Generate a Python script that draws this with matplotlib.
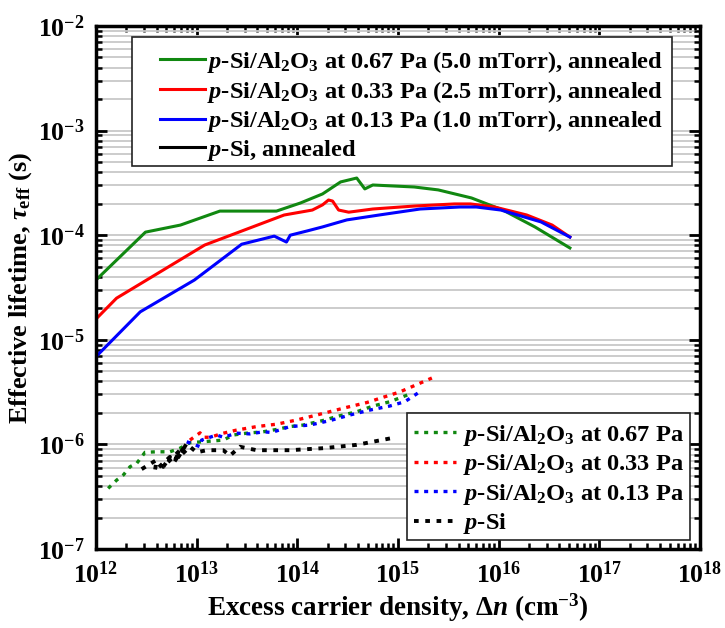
import numpy as np
import matplotlib
matplotlib.use("Agg")
import matplotlib.pyplot as plt
from matplotlib.ticker import LogLocator, NullFormatter, FuncFormatter, FixedLocator
from matplotlib.patches import Rectangle

plt.rcParams['font.family'] = ['Liberation Serif', 'DejaVu Serif']
plt.rcParams['font.weight'] = 'bold'
plt.rcParams['mathtext.fontset'] = 'custom'
plt.rcParams['mathtext.rm'] = 'Liberation Serif:bold'
plt.rcParams['mathtext.it'] = 'Liberation Serif:italic:bold'
plt.rcParams['mathtext.bf'] = 'Liberation Serif:bold'
plt.rcParams['axes.unicode_minus'] = False

# ---- tick decades ----
x_decades = [12, 13, 14, 15, 16, 17, 18]
y_decades = [-7, -6, -5, -4, -3, -2]

# ---- annealed (solid) ----
green_ann_x = [1.0e12, 3.1e12, 6.9e12, 1.7e13, 6.2e13, 1.07e14, 1.78e14, 2.69e14, 3.89e14,
               4.68e14, 5.62e14, 1.45e15, 2.51e15, 5.37e15, 1.10e16, 2.29e16, 5.1e16]
green_ann_y = [3.73e-5, 1.07e-4, 1.25e-4, 1.70e-4, 1.70e-4, 2.03e-4, 2.48e-4, 3.23e-4, 3.52e-4,
               2.77e-4, 3.02e-4, 2.89e-4, 2.71e-4, 2.27e-4, 1.74e-4, 1.20e-4, 7.55e-5]

red_ann_x = [1.0e12, 1.6e12, 1.2e13, 7.4e13, 1.41e14, 1.78e14, 2.04e14, 2.24e14, 2.57e14,
             3.24e14, 5.62e14, 1.45e15, 3.63e15, 5.25e15, 9.1e15, 1.9e16, 3.4e16, 5.1e16]
red_ann_y = [1.58e-5, 2.5e-5, 8.05e-5, 1.56e-4, 1.74e-4, 1.95e-4, 2.17e-4, 2.12e-4, 1.74e-4,
             1.66e-4, 1.78e-4, 1.90e-4, 1.99e-4, 1.99e-4, 1.86e-4, 1.56e-4, 1.25e-4, 9.6e-5]

blue_ann_x = [1.0e12, 2.75e12, 9.5e12, 2.8e13, 5.9e13, 7.8e13, 8.5e13, 1.26e14, 1.78e14,
              3.1e14, 6.5e14, 1.66e15, 4.1e15, 6.0e15, 1.05e16, 2.63e16, 5.1e16]
blue_ann_y = [6.9e-6, 1.85e-5, 3.73e-5, 8.2e-5, 9.8e-5, 8.6e-5, 1.0e-4, 1.10e-4, 1.20e-4,
              1.40e-4, 1.56e-4, 1.78e-4, 1.86e-4, 1.86e-4, 1.74e-4, 1.34e-4, 9.6e-5]

# ---- as-deposited (dotted) ----
green_x = [1.32e12, 1.61e12, 1.87e12, 2.18e12, 2.54e12, 3.07e12, 4.01e12, 5.43e12, 6.82e12,
           8.57e12, 1.16e13, 1.84e13, 2.31e13, 3.14e13, 4.58e13, 6.22e13, 8.43e13, 1.14e14,
           1.79e14, 2.65e14, 3.88e14, 5.68e14, 8.32e14, 1.31e15]
green_y = [3.80e-7, 4.57e-7, 5.1e-7, 6.12e-7, 6.6e-7, 8.4e-7, 8.5e-7, 8.5e-7, 9.18e-7,
           1.04e-6, 1.06e-6, 1.10e-6, 1.23e-6, 1.28e-6, 1.32e-6, 1.39e-6, 1.48e-6, 1.53e-6,
           1.69e-6, 1.88e-6, 2.05e-6, 2.33e-6, 2.56e-6, 3.03e-6]

red_x = [8.57e12, 1.08e13, 1.16e13, 1.36e13, 1.84e13, 2.49e13, 3.94e13, 6.22e13, 9.84e13,
         1.81e14, 3.09e14, 4.88e14, 1.04e15, 2.17e15]
red_y = [1.10e-6, 1.29e-6, 1.17e-6, 1.17e-6, 1.28e-6, 1.37e-6, 1.48e-6, 1.56e-6, 1.71e-6,
         1.98e-6, 2.26e-6, 2.51e-6, 3.17e-6, 4.31e-6]

blue_x = [7.96e12, 1.08e13, 1.12e13, 1.58e13, 1.84e13, 2.49e13, 3.38e13, 4.58e13, 5.56e13,
          8.43e13, 1.33e14, 2.11e14, 3.33e14, 5.26e14, 8.32e14, 1.17e15, 1.58e15]
blue_y = [1.06e-6, 9.5e-7, 1.10e-6, 1.23e-6, 1.17e-6, 1.28e-6, 1.26e-6, 1.32e-6, 1.30e-6,
          1.48e-6, 1.53e-6, 1.69e-6, 1.91e-6, 2.13e-6, 2.33e-6, 2.56e-6, 3.1e-6]

black_x = [2.84e12, 4.0e12, 3.85e12, 5.43e12, 4.66e12, 6.82e12, 5.86e12, 7.96e12, 6.5e12,
           8.57e12, 1.0e13, 1.26e13, 1.84e13, 2.14e13, 2.69e13, 3.94e13, 8.43e13, 1.81e14,
           3.88e14, 8.32e14]
black_y = [5.8e-7, 7.1e-7, 5.6e-7, 7.6e-7, 6.1e-7, 8.8e-7, 6.6e-7, 1.02e-6, 7.4e-7,
           9.5e-7, 8.4e-7, 8.8e-7, 8.8e-7, 7.8e-7, 9.5e-7, 8.8e-7, 8.8e-7, 9.2e-7,
           9.9e-7, 1.14e-6]

labels_ann = [r"$p$-Si/Al$_2$O$_3$ at 0.67 Pa (5.0 mTorr), annealed",
              r"$p$-Si/Al$_2$O$_3$ at 0.33 Pa (2.5 mTorr), annealed",
              r"$p$-Si/Al$_2$O$_3$ at 0.13 Pa (1.0 mTorr), annealed",
              r"$p$-Si, annealed"]
labels_dep = [r"$p$-Si/Al$_2$O$_3$ at 0.67 Pa",
              r"$p$-Si/Al$_2$O$_3$ at 0.33 Pa",
              r"$p$-Si/Al$_2$O$_3$ at 0.13 Pa",
              r"$p$-Si"]

C_G, C_R, C_B, C_K = '#118811', '#ff0000', '#0000ff', '#000000'

W, H = 725, 628
fig = plt.figure(figsize=(W/100, H/100), dpi=100)
ax = fig.add_axes([96/W, 1-549/H, (700-96)/W, (549-26)/H])

lw = 2.2
h1 = ax.plot(green_ann_x, green_ann_y, color=C_G, lw=lw)[0]
h2 = ax.plot(red_ann_x, red_ann_y, color=C_R, lw=lw)[0]
h3 = ax.plot(blue_ann_x, blue_ann_y, color=C_B, lw=lw)[0]
h4 = ax.plot([], [], color=C_K, lw=lw)[0]

ds = (0, (1.2, 1.7))
d1 = ax.plot(green_x, green_y, color=C_G, lw=2.4, ls=ds)[0]
d2 = ax.plot(red_x, red_y, color=C_R, lw=2.4, ls=ds)[0]
d3 = ax.plot(blue_x, blue_y, color=C_B, lw=2.4, ls=ds)[0]
d4 = ax.plot(black_x, black_y, color=C_K, lw=2.8, ls=ds)[0]

ax.set_xscale('log')
ax.set_yscale('log')
ax.set_xlim(10.0**x_decades[0], 10.0**x_decades[-1])
ax.set_ylim(10.0**y_decades[0], 10.0**y_decades[-1])

ax.xaxis.set_major_locator(FixedLocator([10.0**d for d in x_decades]))
ax.yaxis.set_major_locator(FixedLocator([10.0**d for d in y_decades]))
ax.xaxis.set_minor_locator(LogLocator(base=10, subs=np.arange(2, 10), numticks=100))
ax.yaxis.set_minor_locator(LogLocator(base=10, subs=np.arange(2, 10), numticks=100))
ax.xaxis.set_minor_formatter(NullFormatter())
ax.yaxis.set_minor_formatter(NullFormatter())
fmt = FuncFormatter(lambda v, p: r"$\mathregular{10^{%d}}$" % int(round(np.log10(v))))
ax.xaxis.set_major_formatter(fmt)
ax.yaxis.set_major_formatter(fmt)

ax.grid(True, which='both', axis='y', color='#c8c8c8', lw=1.3, zorder=0)
ax.set_axisbelow(True)

for s in ax.spines.values():
    s.set_linewidth(2.5)
ax.tick_params(which='both', direction='in', top=True, right=True, width=2.0)
ax.tick_params(which='major', length=8, labelsize=18.5)
ax.tick_params(axis='x', which='major', pad=9)
ax.tick_params(axis='y', which='major', pad=8)
ax.tick_params(which='minor', length=4, width=1.8)

ax.set_xlabel(r"Excess carrier density, $\Delta n$ (cm$^{-3}$)", fontsize=19.5, fontweight='bold')
ax.set_ylabel(r"Effective lifetime, $\tau_{\mathrm{eff}}$ (s)", fontsize=19, fontweight='bold')
ax.xaxis.set_label_coords(0.5, (549 - 592) / 523)
ax.yaxis.set_label_coords((34 - 96) / 604, 0.5)

# legend frames (asymmetric padding as in the reference)
for (x0, y0, x1, y1) in [(132, 37, 672, 166), (407, 413, 690, 540)]:
    ax.add_patch(Rectangle((x0/W, 1-y1/H), (x1-x0)/W, (y1-y0)/H, transform=fig.transFigure,
                           facecolor='white', edgecolor='#222222', lw=1.2, zorder=4,
                           clip_on=False))

leg1 = ax.legend([h1, h2, h3, h4], labels_ann, loc='upper left',
                 bbox_to_anchor=(160/W, 1-49/H), bbox_transform=fig.transFigure,
                 prop={'size': 17.6, 'weight': 'bold'}, frameon=False,
                 handlelength=1.85, handletextpad=0.08,
                 labelspacing=0.15, borderpad=0.0, borderaxespad=0)
leg1.set_zorder(6)
ax.add_artist(leg1)

leg2 = ax.legend([d1, d2, d3, d4], labels_dep, loc='upper left',
                 bbox_to_anchor=(414/W, 1-423/H), bbox_transform=fig.transFigure,
                 prop={'size': 17.6, 'weight': 'bold'}, frameon=False,
                 handlelength=1.7, handletextpad=0.3,
                 labelspacing=0.18, borderpad=0.0, borderaxespad=0)
leg2.set_zorder(6)

fig.savefig('out.png', dpi=100)
